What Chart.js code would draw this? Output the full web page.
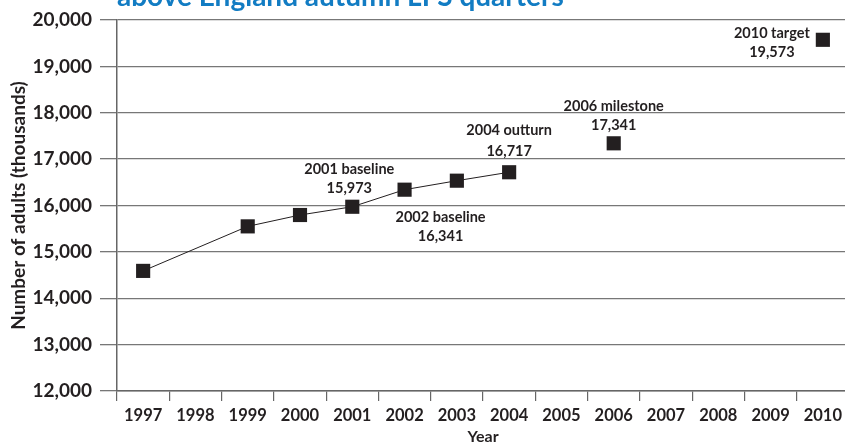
<!DOCTYPE html>
<html>
<head>
<meta charset="utf-8">
<script src="https://cdn.jsdelivr.net/npm/chart.js@4.4.1/dist/chart.umd.min.js"></script>
<style>
  html, body { margin: 0; padding: 0; background: #fff; overflow: hidden; }
  #wrap { width: 859px; height: 448px; position: relative; }
</style>
</head>
<body>
<div id="wrap"><canvas id="adultsChart" width="859" height="448"></canvas></div>
<script>
// Data start
const years = ["1997", "1998", "1999", "2000", "2001", "2002", "2003", "2004", "2005", "2006", "2007", "2008", "2009", "2010"];
const actualValues = [14590, null, 15550, 15795, 15973, 16341, 16535, 16717, null, null, null, null, null, null];
const targetValues = [null, null, null, null, null, null, null, null, null, 17341, null, null, null, 19573];
const yTicks = [12000, 13000, 14000, 15000, 16000, 17000, 18000, 19000, 20000];
const noteYears = ["2001", "2002", "2004", "2006", "2010"];
const noteTitles = ["2001 baseline", "2002 baseline", "2004 outturn", "2006 milestone", "2010 target"];
const noteValues = [15973, 16341, 16717, 17341, 19573];
const titleText = "above England autumn LFS quarters";
// Data end

const ink = "#231f20";
const fontFamily = "Lato, 'Open Sans', sans-serif";

// where each note sits relative to its point (dx, dy of first line, dy of second line)
const noteOffsets = {
    "2001": [-3, -37, -18],
    "2002": [36, 28, 47],
    "2004": [0, -42, -21],
    "2006": [0, -37, -18],
    "2010": [-51, -6, 13]
};

const notesPlugin = {
    id: "notes",
    afterDatasetsDraw(chart) {
        const ctx = chart.ctx;
        const x = chart.scales.x;
        const y = chart.scales.y;
        ctx.save();
        ctx.fillStyle = ink;
        ctx.font = "bold 14.5px " + fontFamily;
        ctx.textAlign = "center";
        ctx.textBaseline = "middle";
        noteYears.forEach((yr, i) => {
            const px = x.getPixelForValue(years.indexOf(yr));
            const py = y.getPixelForValue(noteValues[i]);
            const off = noteOffsets[yr];
            ctx.fillText(noteTitles[i], px + off[0], py + off[1]);
            ctx.fillText(noteValues[i].toLocaleString("en-GB"), px + off[0], py + off[2]);
        });
        ctx.restore();
    },
    afterDraw(chart) {
        // cut-off title line at the very top
        const ctx = chart.ctx;
        ctx.save();
        ctx.fillStyle = "#127cc3";
        ctx.font = "bold 28px " + fontFamily;
        ctx.textAlign = "left";
        ctx.textBaseline = "alphabetic";
        ctx.fillText(titleText, 117, 6);
        ctx.restore();
    }
};

const ctx = document.getElementById("adultsChart").getContext("2d");

new Chart(ctx, {
    type: "line",
    data: {
        labels: years,
        datasets: [{
            label: "Outturn",
            data: actualValues,
            borderColor: ink,
            borderWidth: 1,
            backgroundColor: ink,
            pointStyle: "rect",
            pointRadius: 10,
            pointBorderWidth: 0,
            spanGaps: true,
            tension: 0
        }, {
            label: "Milestone and target",
            data: targetValues,
            showLine: false,
            borderColor: ink,
            backgroundColor: ink,
            pointStyle: "rect",
            pointRadius: 10,
            pointBorderWidth: 0
        }]
    },
    options: {
        responsive: false,
        animation: false,
        layout: { padding: { top: 20, left: 0, right: 0, bottom: 0 } },
        plugins: {
            legend: { display: false },
            tooltip: { enabled: false }
        },
        scales: {
            x: {
                offset: true,
                border: { color: "#666", width: 1.5 },
                grid: {
                    offset: true,
                    drawOnChartArea: false,
                    drawTicks: true,
                    tickLength: 10,
                    color: "#666",
                    lineWidth: 1.2
                },
                ticks: {
                    color: ink,
                    padding: 5,
                    maxRotation: 0,
                    autoSkip: false,
                    font: { family: fontFamily, size: 16.5, weight: "bold" }
                },
                title: {
                    display: true,
                    text: "Year",
                    color: ink,
                    padding: { top: 0, bottom: 2 },
                    font: { family: fontFamily, size: 16, weight: "bold" }
                },
                afterFit: function(scale) {
                    scale.height = 57;
                    scale.paddingLeft = 0;
                    scale.paddingRight = 0;
                }
            },
            y: {
                min: 12000,
                max: 20000,
                border: { color: "#666", width: 1.5 },
                grid: {
                    color: "#777",
                    lineWidth: 1.3,
                    tickLength: 17
                },
                afterBuildTicks: function(scale) {
                    scale.ticks = yTicks.map(v => ({ value: v }));
                },
                ticks: {
                    color: ink,
                    padding: 8,
                    font: { family: fontFamily, size: 19, weight: "bold" },
                    callback: function(value) {
                        return value.toLocaleString("en-GB");
                    }
                },
                title: {
                    display: true,
                    text: "Number of adults (thousands)",
                    color: ink,
                    padding: { top: 7, bottom: 4 },
                    font: { family: fontFamily, size: 19, weight: "bold" }
                },
                afterFit: function(scale) {
                    scale.width = 117;
                    scale.paddingTop = 0;
                    scale.paddingBottom = 0;
                }
            }
        }
    },
    plugins: [notesPlugin]
});
</script>
</body>
</html>
